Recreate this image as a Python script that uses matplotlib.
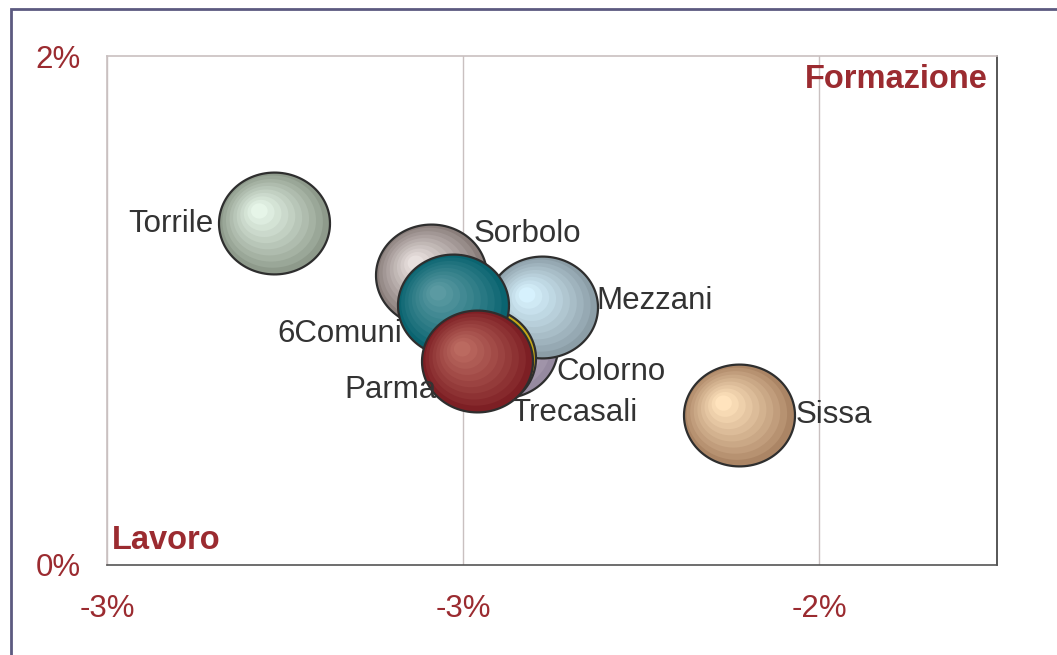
import numpy as np
import matplotlib
matplotlib.use("Agg")
import matplotlib.pyplot as plt
from matplotlib.path import Path
from matplotlib.transforms import ScaledTranslation
from matplotlib.colors import to_rgb
from matplotlib.patches import Rectangle

plt.rcParams['font.family'] = ['Liberation Sans', 'DejaVu Sans']

# data (x and y in %), listed in drawing order (bottom -> top)
names = ['Torrile', 'Sissa', 'Sorbolo', 'Trecasali', 'Mezzani', 'Colorno', '6Comuni', 'Parma']
x_vals = [-3.015, -2.363, -2.795, -2.695, -2.639, -2.7255, -2.764, -2.730]
y_vals = [1.344, 0.589, 1.139, 0.857, 1.014, 0.813, 1.022, 0.802]
sizes = [1, 1, 1, 1, 1, 1, 1, 1]
x_ticks = [-3.25, -2.75, -2.25]
y_ticks = [0, 2]

# styles: (outer colour, highlight colour)
colors = {
    'Torrile': ('#8e9a8b', '#e6f5e8'),
    'Sissa': ('#ab8565', '#ffe3bd'),
    'Sorbolo': ('#8a7e7b', '#e8e0de'),
    'Trecasali': ('#968aa0', '#dcd0e4'),
    'Mezzani': ('#8c9ea7', '#d6f1fd'),
    'Colorno': ('#c4a818', '#f0e060'),
    '6Comuni': ('#0a6470', '#5b9aa2'),
    'Parma': ('#7d1f24', '#bb6a60'),
}
# label placement: offset in pixels from bubble centre, alignment
label_pos = {
    'Torrile': (-61, -1, 'right'),
    'Sissa': (57, 0, 'left'),
    'Sorbolo': (43, 41, 'left'),
    'Trecasali': (9, -66, 'left'),
    'Mezzani': (54, 6, 'left'),
    'Colorno': (76, -14, 'left'),
    '6Comuni': (-51, -29, 'right'),
    'Parma': (-41, -29, 'right'),
}

red = '#9b2b30'
fig = plt.figure(figsize=(10.57, 6.55), dpi=100)
ax = fig.add_axes([107/1057, 1-565/655, 890/1057, 509/655])
ax.set_xlim(-3.25, -2.0)
ax.set_ylim(0, 2)
ax.set_xticks(x_ticks)
ax.set_yticks(y_ticks)
ax.set_xticklabels(['%d%%' % round(v) for v in x_ticks])
ax.set_yticklabels(['%d%%' % round(v) for v in y_ticks])
ax.tick_params(length=0, labelsize=22.5, labelcolor=red)
ax.tick_params(axis='x', pad=21)
ax.tick_params(axis='y', pad=19)
ax.grid(axis='x', color='#c9c0c0', lw=1)
ax.set_axisbelow(True)
ax.spines['left'].set_color('#c9c0c0')
ax.spines['top'].set_color('#c9c0c0')
ax.spines['right'].set_color('#3a3a3a')
ax.spines['bottom'].set_color('#555555')
for s in ax.spines.values():
    s.set_linewidth(1.2)

theta = np.linspace(0, 2*np.pi, 120)
ell = Path(np.column_stack([1.09*np.cos(theta), np.sin(theta)]))

px = 0.72  # points per pixel
n = 10
for i, name in enumerate(names):
    base = (111*px)**2 * sizes[i]
    c0 = np.array(to_rgb(colors[name][0]))
    c1 = np.array(to_rgb(colors[name][1]))
    for k in range(n):
        t = k/(n-1)
        sc = 1 - 0.85*t
        off = ScaledTranslation(-15*t*px/72, 12*t*px/72, fig.dpi_scale_trans)
        col = c0 + (c1 - c0)*t**0.9
        ax.scatter([x_vals[i]], [y_vals[i]], s=base*sc**2, marker=ell, color=col,
                   edgecolors='#2e2e2e' if k == 0 else 'none',
                   linewidths=1.6 if k == 0 else 0,
                   transform=ax.transData + off, zorder=3+i, clip_on=False)

for i, name in enumerate(names):
    dx, dy, ha = label_pos[name]
    ax.annotate(name, (x_vals[i], y_vals[i]), xytext=(dx*px, dy*px),
                textcoords='offset points', ha=ha, va='center',
                fontsize=22.5, color='#333333', zorder=20)

ax.text(0.99, 0.953, 'Formazione', transform=ax.transAxes, ha='right', va='center',
        fontsize=23.5, fontweight='bold', color=red, zorder=20)
ax.text(0.006, 0.049, 'Lavoro', transform=ax.transAxes, ha='left', va='center',
        fontsize=23.5, fontweight='bold', color=red, zorder=20)

fig.add_artist(Rectangle((11/1057, -0.05), 1.2, 1.05 - 9/655, transform=fig.transFigure,
                         facecolor='none', edgecolor='#5c5a80', lw=2, clip_on=False))

fig.savefig('out.png', dpi=100)
